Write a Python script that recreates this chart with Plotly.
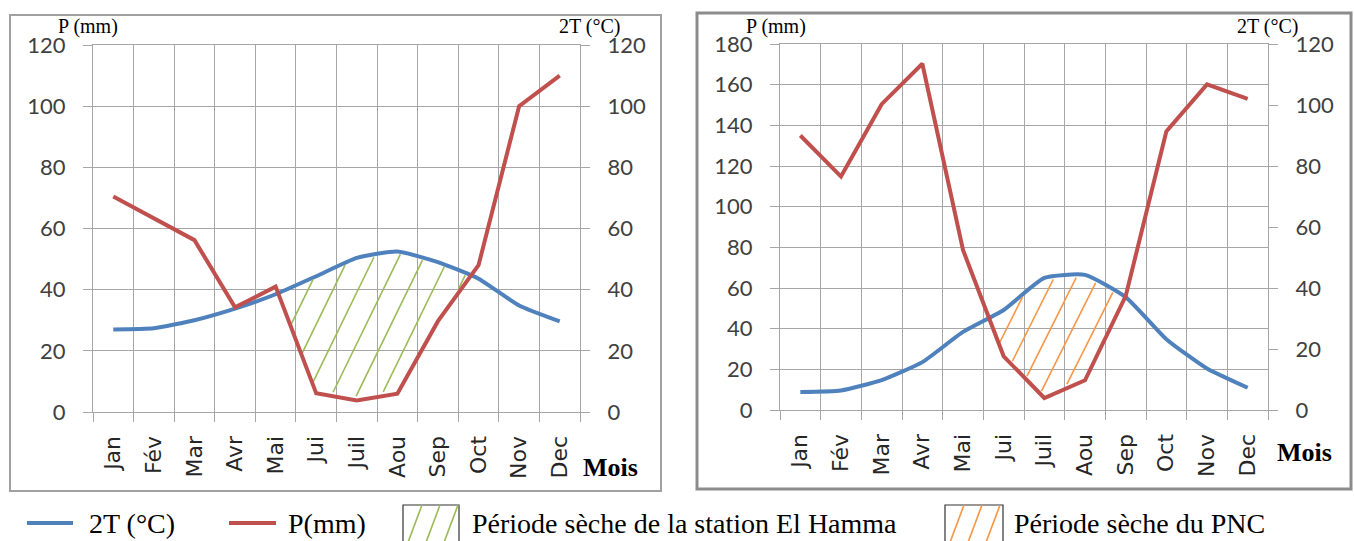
import numpy as np
import plotly.graph_objects as go

# ---------------- data ----------------
months = ["Jan", "Fév", "Mar", "Avr", "Mai", "Jui", "Juil", "Aou", "Sep", "Oct", "Nov", "Dec"]

# Station El Hamma (left chart)
p_hamma = [70.5, 63.2, 56.2, 34.2, 41.0, 6.1, 3.8, 6.0, 29.7, 48.0, 100.0, 110.0]
t2_hamma = [27.0, 27.4, 30.0, 33.8, 38.5, 44.4, 50.4, 52.5, 49.0, 43.6, 34.8, 29.6]

# PNC (right chart)
p_pnc = [135.0, 114.8, 150.4, 170.3, 78.7, 26.4, 5.9, 14.6, 56.0, 137.0, 160.1, 153.0]
t2_pnc = [5.9, 6.4, 9.8, 15.7, 25.6, 32.8, 43.3, 44.3, 37.0, 23.2, 13.6, 7.3]

p_ticks_hamma = [0, 20, 40, 60, 80, 100, 120]
p_ticks_pnc = [0, 20, 40, 60, 80, 100, 120, 140, 160, 180]
t_ticks = [0, 20, 40, 60, 80, 100, 120]

legend_labels = ["2T (°C)", "P(mm)", "Période sèche de la station El Hamma", "Période sèche du PNC"]

# ---------------- style ----------------
W, H = 1354, 541
BLUE = "#4F81BD"
RED = "#C0504D"
GREEN = "#9BBB59"
ORANGE = "#F79646"
GRID = "#a6a6a6"
SERIF = "Liberation Serif"


def fx(px):
    return px / W


def fy(py):
    return 1 - py / H


panels = [
    dict(p=p_hamma, t=t2_hamma, pticks=p_ticks_hamma, area=(93, 580, 45, 412),
         xa="x", ta="y", pa="y2", hatch=GREEN, slope_px=2.05, spacing_px=25,
         phase_px=(291.7, 323.3)),
    dict(p=p_pnc, t=t2_pnc, pticks=p_ticks_pnc, area=(780, 1268, 44, 410),
         xa="x2", ta="y3", pa="y4", hatch=ORANGE, slope_px=2.0, spacing_px=22,
         phase_px=(1001, 340)),
]

fig = go.Figure()
idx = np.arange(len(months))

for pn in panels:
    x0p, x1p, y0p, y1p = pn["area"]
    pmax = pn["pticks"][-1]
    tmax = t_ticks[-1]
    cat_px = (x1p - x0p) / len(months)
    unit_px = (y1p - y0p) / pmax
    slope = pn["slope_px"] * cat_px / unit_px
    spacing = pn["spacing_px"] / cat_px
    ref_x = (pn["phase_px"][0] - x0p) / cat_px - 0.5
    ref_y = (y1p - pn["phase_px"][1]) / unit_px
    base = ref_x - ref_y / slope

    red = np.array(pn["p"], dtype=float)
    blue_p = np.array(pn["t"], dtype=float) * (pmax / tmax)
    xs = np.linspace(-0.5, len(months) - 0.5, 8000)
    r = np.interp(xs, idx, red)
    b = np.interp(xs, idx, blue_p)
    in_top = 2.0 / unit_px
    in_bot = 4.0 / unit_px
    hx, hy = [], []
    for k in range(-40, 40):
        c = base + k * spacing
        yl = slope * (xs - c)
        m = (yl > r + in_bot) & (yl < b - in_top)
        if not m.any():
            continue
        d = np.diff(m.astype(int))
        starts = list(np.where(d == 1)[0] + 1)
        ends = list(np.where(d == -1)[0])
        if m[0]:
            starts = [0] + starts
        if m[-1]:
            ends = ends + [len(xs) - 1]
        for s, e in zip(starts, ends):
            if (yl[e] - yl[s]) * unit_px < 6:
                continue
            hx += [xs[s], xs[e], None]
            hy += [yl[s], yl[e], None]

    # blue (2T) on the right-hand T axis (base layer)
    fig.add_trace(go.Scatter(x=idx, y=pn["t"], mode="lines", xaxis=pn["xa"], yaxis=pn["ta"],
                             line=dict(color=BLUE, width=4, shape="spline", smoothing=0.5),
                             showlegend=False, hoverinfo="skip"))
    # hatching
    fig.add_trace(go.Scatter(x=hx, y=hy, mode="lines", xaxis=pn["xa"], yaxis=pn["pa"],
                             line=dict(color=pn["hatch"], width=1.6),
                             showlegend=False, hoverinfo="skip"))
    # red (P)
    fig.add_trace(go.Scatter(x=idx, y=pn["p"], mode="lines", xaxis=pn["xa"], yaxis=pn["pa"],
                             line=dict(color=RED, width=4),
                             showlegend=False, hoverinfo="skip"))


def xaxis_cfg(x0p, x1p, anchor):
    return dict(domain=[fx(x0p), fx(x1p)], range=[-0.5, len(months) - 0.5], anchor=anchor,
                automargin=False,
                tickmode="array", tickvals=list(idx), ticktext=months, tickangle=-90,
                ticks="", showgrid=False, zeroline=False, showline=True, linecolor=GRID,
                linewidth=1.3, mirror=True, ticklabelstandoff=14,
                tickfont=dict(family="DejaVu Sans", size=22, color="#262626"),
                minor=dict(tickmode="linear", tick0=-0.5, dtick=1, ticks="outside", ticklen=9,
                           tickcolor=GRID, tickwidth=1.3, showgrid=True, gridcolor=GRID,
                           gridwidth=1.3))


def taxis_cfg(y0p, y1p, anchor):
    return dict(domain=[fy(y1p), fy(y0p)], range=[0, t_ticks[-1]], anchor=anchor, side="right",
                automargin=False,
                tickmode="array", tickvals=t_ticks, ticks="outside", ticklen=9, tickcolor=GRID,
                tickwidth=1.3, showgrid=False, zeroline=False, showline=True, linecolor=GRID,
                linewidth=1.3, ticklabelstandoff=13,
                tickfont=dict(family="Lato", size=22, color="#404040"))


def paxis_cfg(y0p, y1p, anchor, overlay, pticks):
    return dict(domain=[fy(y1p), fy(y0p)], range=[0, pticks[-1]], anchor=anchor, side="left",
                automargin=False,
                overlaying=overlay, tickmode="array", tickvals=pticks, ticks="outside", ticklen=9,
                tickcolor=GRID, tickwidth=1.3, showgrid=True, gridcolor=GRID, gridwidth=1.3,
                zeroline=False, showline=True, linecolor=GRID, linewidth=1.3,
                ticklabelstandoff=13, tickfont=dict(family="Lato", size=22, color="#404040"))


a0 = panels[0]["area"]
a1 = panels[1]["area"]
fig.update_layout(
    xaxis=xaxis_cfg(a0[0], a0[1], "y"),
    yaxis=taxis_cfg(a0[2], a0[3], "x"),
    yaxis2=paxis_cfg(a0[2], a0[3], "x", "y", p_ticks_hamma),
    xaxis2=xaxis_cfg(a1[0], a1[1], "y3"),
    yaxis3=taxis_cfg(a1[2], a1[3], "x2"),
    yaxis4=paxis_cfg(a1[2], a1[3], "x2", "y3", p_ticks_pnc),
)

shapes = []
annotations = []

# chart frames
shapes.append(dict(type="rect", xref="paper", yref="paper", x0=fx(10), x1=fx(661), y0=fy(491),
                   y1=fy(15), line=dict(color="#a0a0a0", width=2), layer="below"))
shapes.append(dict(type="rect", xref="paper", yref="paper", x0=fx(697), x1=fx(1351), y0=fy(489),
                   y1=fy(13), line=dict(color="#8c8c8c", width=3), layer="below"))


def ann(text, xp, yp, size, bold=False, xanchor="center"):
    annotations.append(dict(text=("<b>%s</b>" % text) if bold else text, xref="paper",
                            yref="paper", x=fx(xp), y=fy(yp), xanchor=xanchor, yanchor="middle",
                            showarrow=False, font=dict(family=SERIF, size=size, color="black")))


# axis titles
ann("P (mm)", 88, 27, 20)
ann("2T (°C)", 590, 27, 20)
ann("P (mm)", 776, 27, 20)
ann("2T (°C)", 1268, 27, 20)
ann("Mois", 610, 467, 26, bold=True)
ann("Mois", 1304, 452, 26, bold=True)

# legend
LY = 523
shapes.append(dict(type="line", xref="paper", yref="paper", x0=fx(27), x1=fx(73), y0=fy(LY),
                   y1=fy(LY), line=dict(color=BLUE, width=4)))
ann(legend_labels[0], 87, LY, 28, xanchor="left")
shapes.append(dict(type="line", xref="paper", yref="paper", x0=fx(229), x1=fx(276), y0=fy(LY),
                   y1=fy(LY), line=dict(color=RED, width=4)))
ann(legend_labels[1], 286, LY, 28, xanchor="left")


def hatch_box(bx0, bx1, color):
    by0, by1 = 505, 545
    shapes.append(dict(type="rect", xref="paper", yref="paper", x0=fx(bx0), x1=fx(bx1),
                       y0=fy(by1), y1=fy(by0), line=dict(color="#333333", width=1.2)))
    for off in (4, 22, 40):
        xb = bx0 + off
        xt = xb + 15
        yt = by0
        if xt > bx1:
            yt = by0 + (xt - bx1) * 40 / 15
            xt = bx1
        shapes.append(dict(type="line", xref="paper", yref="paper", x0=fx(xb), x1=fx(xt),
                           y0=fy(by1), y1=fy(yt), line=dict(color=color, width=1.6)))


hatch_box(403, 459, GREEN)
ann(legend_labels[2], 470, LY, 28, xanchor="left")
hatch_box(945, 1003, ORANGE)
ann(legend_labels[3], 1012, LY, 28, xanchor="left")

fig.update_layout(shapes=shapes, annotations=annotations, width=W, height=H, autosize=False,
                  margin=dict(l=0, r=0, t=0, b=0), paper_bgcolor="white", plot_bgcolor="white",
                  showlegend=False)

fig.write_html("out.html", post_script="document.body.style.margin='0';",
               config={"displayModeBar": False})
